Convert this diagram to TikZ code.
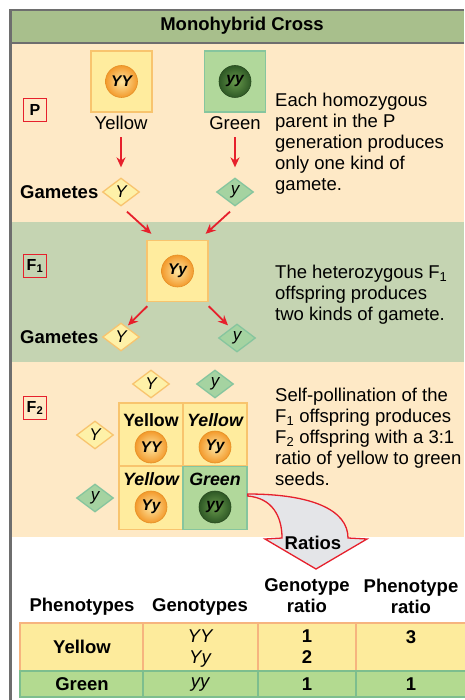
\documentclass[tikz,border=0pt]{standalone}
\usepackage{fontspec}
\setmainfont{Liberation Sans}
\usetikzlibrary{positioning,arrows.meta,shapes.geometric}

\definecolor{headgreen}{HTML}{A8BF8C}
\definecolor{peach}{HTML}{FEE9C6}
\definecolor{sage}{HTML}{C5D4B2}
\definecolor{framegray}{HTML}{6E6E6E}
\definecolor{boxyellow}{HTML}{FFEC9E}
\definecolor{boxorange}{HTML}{F8C46E}
\definecolor{boxgreen}{HTML}{B1D89B}
\definecolor{edgegreen}{HTML}{86C59E}
\definecolor{gamyellow}{HTML}{FEF1A8}
\definecolor{gamgreen}{HTML}{A5D3A1}
\definecolor{arrowred}{HTML}{E6202C}
\definecolor{ratiogray}{HTML}{E4E5E8}
\definecolor{rowyellow}{HTML}{FDEB9C}
\definecolor{rowgreen}{HTML}{B3DA90}
\definecolor{roworange}{HTML}{F6B47F}
\definecolor{rowedge}{HTML}{7DBE8E}
\definecolor{peahigh}{HTML}{FDE6A2}
\definecolor{peaorange}{HTML}{F39A2C}
\definecolor{peaedge}{HTML}{E58F25}
\definecolor{peamoss}{HTML}{689A4C}
\definecolor{peagreen}{HTML}{2E5825}
\definecolor{peadark}{HTML}{284A1F}

\newcommand{\labelfont}{\fontsize{18.5}{21}\selectfont}

\tikzset{
    >={Stealth[length=10pt,width=9pt]},
    cross/.style={->, draw=arrowred, line width=1.8pt},
    stage/.style={rectangle, draw=arrowred, line width=1pt, minimum size=23pt, inner sep=0pt, font=\fontsize{16}{16}\selectfont\bfseries},
    seedbox/.style={rectangle, draw=boxorange, fill=boxyellow, line width=1.3pt, minimum size=61pt, inner sep=0pt},
    greenbox/.style={seedbox, draw=edgegreen, fill=boxgreen},
    pea/.style={circle, minimum size=32pt, inner sep=0pt, draw=peaedge, line width=0.6pt, inner color=peahigh, outer color=peaorange, font=\fontsize{15.5}{16}\selectfont\bfseries\itshape},
    greenpea/.style={pea, draw=peadark, inner color=peamoss, outer color=peagreen},
    gamete/.style={diamond, draw=boxorange, fill=gamyellow, line width=1.3pt, minimum width=37pt, minimum height=28pt, inner sep=0pt, font=\fontsize{17}{17}\selectfont\itshape},
    ggamete/.style={gamete, draw=edgegreen, fill=gamgreen},
    cell/.style={rectangle, draw=boxorange, fill=boxyellow, line width=1.3pt, minimum width=64pt, minimum height=63pt, inner sep=0pt},
    gcell/.style={cell, draw=edgegreen, fill=boxgreen},
    celltext/.style={font=\fontsize{17.8}{20}\selectfont\bfseries\itshape, inner sep=0pt},
    note/.style={anchor=north west, align=left, inner sep=0pt},
    head/.style={font=\labelfont\bfseries, align=center}
}

\begin{document}
\begin{tikzpicture}[x=1pt, y=-1pt, font=\labelfont]
    \useasboundingbox (0,0) rectangle (464,700);
    \fill[white] (0,0) rectangle (464,700);

    % background bands and frame
    \fill[headgreen] (10,10) rectangle (464,43);
    \fill[peach] (10,43) rectangle (464,222);
    \fill[sage] (10,222) rectangle (464,362);
    \fill[peach] (10,362) rectangle (464,537);
    \draw[framegray, line width=1.5pt] (10,10) -- (464,10);
    \draw[framegray, line width=2pt] (10,43) -- (464,43);
    \draw[framegray, line width=2.5pt] (10.5,9.3) -- (10.5,700);

    \node[head] (title) at (242,26) {Monohybrid Cross};

    % P generation
    \node[stage] (P) at (35,110) {P};
    \node[seedbox] (pYY) at (121.5,81.5) {};
    \node[pea] (peaYY) at (pYY) {YY};
    \node[greenbox] (pyy) at (235,81.5) {};
    \node[greenpea] (peayy) at (pyy) {yy};
    \node[anchor=base] (lblYellow) at (121,129.5) {Yellow};
    \node[anchor=base] (lblGreen) at (235,129.5) {Green};
    \node[gamete] (gY) at (121,192) {Y};
    \node[ggamete] (gy) at (235,192) {y};
    \node[head, left=0pt of gY] (gamP) {Gametes};
    \draw[cross, shorten <=4pt, shorten >=10pt] (lblYellow) -- (gY);
    \draw[cross, shorten <=4pt, shorten >=10pt] (lblGreen) -- (gy);
    \node[note] (noteP) at (275,93) {Each homozygous\\parent in the P\\generation produces\\only one kind of\\gamete.};

    % F1 generation
    \node[stage] (F1) at (35,266) {F\textsubscript{1}};
    \node[seedbox] (f1) at (177.5,271) {};
    \node[pea] (peaYy) at (f1) {Yy};
    \draw[cross] ([xshift=6pt,yshift=-5pt]gY.south) -- ([xshift=5pt,yshift=6pt]f1.north west);
    \draw[cross] ([xshift=-5pt,yshift=-5pt]gy.south) -- ([xshift=-3pt,yshift=6pt]f1.north east);
    \node[gamete] (gY1) at (121,337) {Y};
    \node[ggamete] (gy1) at (237,338) {y};
    \node[head, left=0pt of gY1] (gamF1) {Gametes};
    \draw[cross] ([xshift=1pt,yshift=-4pt]f1.south west) -- ([xshift=7pt,yshift=-3pt]gY1.north);
    \draw[cross] ([yshift=-4pt]f1.south east) -- ([xshift=-9pt,yshift=-2pt]gy1.north);
    \node[note] (noteF1) at (275,265) {The heterozygous F\textsubscript{1}\\offspring produces\\two kinds of gamete.};

    % F2 generation, Punnett square
    \node[stage] (F2) at (35,408) {F\textsubscript{2}};
    \node[gamete] (tY) at (151,384) {Y};
    \node[ggamete] (ty) at (215,384) {y};
    \node[gamete] (sY) at (95,435) {Y};
    \node[ggamete] (sy) at (95,498) {y};
    \node[cell] (c11) at (151,434.5) {};
    \node[cell] (c12) at (215,434.5) {};
    \node[cell] (c21) at (151,498) {};
    \node[gcell] (c22) at (215,498) {};
    \node[celltext, font=\fontsize{17.8}{20}\selectfont\bfseries] (t11) at (151,420) {Yellow};
    \node[pea] (p11) at (151,447) {YY};
    \node[celltext] (t12) at (215,420) {Yellow};
    \node[pea] (p12) at (215,447) {Yy};
    \node[celltext] (t21) at (151,479) {Yellow};
    \node[pea] (p21) at (151,507) {Yy};
    \node[celltext] (t22) at (215,479) {Green};
    \node[greenpea] (p22) at (215,507) {yy};
    \node[note] (noteF2) at (275,388) {Self-pollination of the\\F\textsubscript{1} offspring produces\\F\textsubscript{2} offspring with a 3:1\\ratio of yellow to green\\seeds.};

    % curved arrow down to the table
    \draw[arrowred, fill=ratiogray, line width=1.3pt, line join=miter]
        ([yshift=4pt]c22.east) .. controls (312,494) and (348,510) .. (348,538)
        -- (367,539) -- (316,569) -- (265,539) -- (282,538)
        .. controls (282,516) and (272,498) .. ([yshift=2pt]c22.east) -- cycle;
    \node[head] (ratios) at (313,543) {Ratios};

    % ratio table
    \node[head] (hPheno) at (82,607) {Phenotypes};
    \node[head] (hGeno) at (200,607) {Genotypes};
    \node[head] (hGenoR) at (307,596) {Genotype\\ratio};
    \node[head] (hPhenoR) at (411,596) {Phenotype\\ratio};
    \fill[rowyellow] (20,623) rectangle (470,671);
    \fill[rowgreen] (20,671) rectangle (470,697);
    \draw[roworange, line width=1.2pt] (20,671) -- (20,623) -- (470,623);
    \foreach \x in {143,258,356}
        \draw[roworange, line width=1.2pt] (\x,623) -- (\x,671);
    \draw[rowedge, line width=1.2pt] (20,671) rectangle (470,697);
    \foreach \x in {143,258,356}
        \draw[rowedge, line width=1.2pt] (\x,671) -- (\x,697);
    \node[head] (rYellow) at (82,647) {Yellow};
    \node[font=\labelfont\itshape, align=center] (rYY) at (200,649) {YY\\Yy};
    \node[head] (rYYn) at (307,647) {1\\2};
    \node[head] (rYel) at (411,637) {3};
    \node[head] (rGreen) at (82,684) {Green};
    \node[font=\labelfont\itshape] (ryy) at (200,685) {yy};
    \node[head] (ryyn) at (307,684) {1};
    \node[head] (rGre) at (411,684) {1};
\end{tikzpicture}
\end{document}
